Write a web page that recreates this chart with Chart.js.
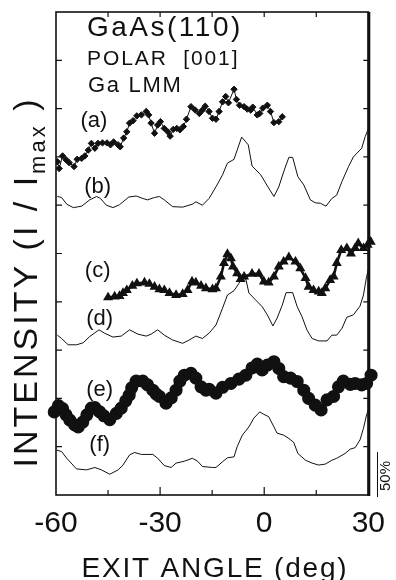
<!DOCTYPE html>
<html>
<head>
<meta charset="utf-8">
<title>GaAs(110) Ga LMM polar scan</title>
<script src="https://cdn.jsdelivr.net/npm/chart.js@4.4.1/dist/chart.umd.min.js"></script>
<style>
  html, body { margin: 0; padding: 0; background: #fff; }
  canvas { display: block; }
</style>
</head>
<body>
<canvas id="scan" width="396" height="580"></canvas>
<script>
// exit angle (deg) and stacked intensity for each curve, one pair of arrays per trace
const aAngles = [-59.6, -59.1, -58.1, -57.1, -56.2, -54.8, -53.9, -52.6, -51.7, -50.7, -49.8, -48.8, -47.9, -46.6, -45.3, -44.3, -43.4, -42.1, -41.5, -40.5, -39.6, -38.8, -37.8, -36.7, -35.4, -34.0, -33.3, -32.6, -31.6, -30.7, -29.9, -28.8, -27.8, -27.1, -26.2, -25.2, -24.3, -23.3, -22.4, -21.1, -19.9, -18.7, -17.8, -17.0, -15.9, -14.9, -13.9, -13.0, -12.0, -11.1, -10.3, -8.7, -8.0, -7.1, -5.8, -4.9, -3.9, -3.3, -2.0, -1.3, -0.4, 0.9, 1.8, 2.8, 4.2, 5.2];
const aValues = [6.90, 6.76, 7.02, 6.94, 6.88, 6.80, 6.95, 6.97, 7.02, 7.14, 7.28, 7.18, 7.28, 7.29, 7.29, 7.25, 7.31, 7.25, 7.21, 7.39, 7.52, 7.70, 7.75, 7.85, 7.87, 7.94, 7.87, 7.70, 7.49, 7.66, 7.73, 7.59, 7.52, 7.43, 7.57, 7.59, 7.56, 7.63, 7.78, 8.04, 7.97, 7.90, 7.97, 8.05, 7.94, 7.80, 7.78, 7.94, 8.14, 8.25, 8.12, 8.40, 8.19, 8.07, 8.04, 7.99, 7.97, 8.03, 7.87, 7.90, 8.01, 8.07, 7.94, 7.71, 7.73, 7.83];

const bAngles = [-59.6, -58.4, -56.9, -55.0, -52.6, -50.3, -48.3, -47.2, -45.5, -43.6, -41.7, -39.0, -36.9, -35.0, -33.6, -31.6, -30.2, -28.8, -26.4, -23.5, -20.7, -19.7, -17.8, -15.9, -13.9, -12.0, -10.6, -8.7, -7.8, -6.5, -5.3, -4.6, -3.5, -1.0, 0.9, 2.8, 4.2, 5.6, 7.1, 8.2, 9.7, 11.4, 13.3, 14.7, 16.2, 17.8, 19.5, 20.9, 22.4, 24.3, 25.7, 28.1, 29.1, 30];
const bValues = [6.18, 6.16, 6.02, 5.95, 5.98, 6.11, 6.18, 6.14, 6.00, 5.95, 6.01, 6.17, 6.19, 6.14, 6.11, 6.16, 6.18, 6.11, 5.97, 5.96, 6.02, 6.07, 6.00, 6.14, 6.38, 6.63, 6.87, 6.95, 7.14, 7.41, 7.31, 7.25, 6.81, 6.63, 6.40, 6.18, 6.38, 6.69, 6.99, 6.99, 6.59, 6.42, 6.11, 6.05, 6.04, 5.98, 6.14, 6.21, 6.49, 6.80, 7.00, 7.18, 7.42, 7.58];

const cAngles = [-45.0, -43.1, -41.7, -40.7, -39.6, -38.0, -36.7, -34.5, -33.1, -31.6, -30.2, -28.8, -27.3, -25.4, -23.5, -22.1, -20.8, -19.7, -18.2, -16.8, -14.9, -13.9, -12.5, -11.6, -10.6, -9.6, -9.0, -7.8, -6.8, -5.8, -3.5, -1.5, -0.1, 1.3, 2.8, 4.2, 5.6, 7.1, 9.0, 10.4, 11.9, 12.8, 14.2, 15.7, 16.6, 17.6, 19.0, 20.0, 20.9, 22.2, 23.8, 25.0, 26.2, 27.1, 28.6, 29.8, 30.7];
const cValues = [4.09, 4.11, 4.12, 4.18, 4.24, 4.33, 4.38, 4.40, 4.37, 4.31, 4.26, 4.24, 4.18, 4.14, 4.16, 4.24, 4.42, 4.40, 4.33, 4.28, 4.26, 4.28, 4.52, 4.80, 4.99, 4.90, 4.73, 4.59, 4.47, 4.52, 4.58, 4.58, 4.42, 4.40, 4.52, 4.73, 4.83, 4.92, 4.83, 4.69, 4.49, 4.31, 4.24, 4.21, 4.18, 4.28, 4.45, 4.52, 4.80, 5.07, 5.11, 5.00, 5.11, 5.21, 5.11, 5.18, 5.24];

const dAngles = [-59.6, -58.4, -56.5, -54.1, -52.2, -50.3, -47.6, -46.0, -43.6, -41.2, -38.8, -36.4, -34.0, -32.6, -30.7, -28.8, -26.4, -23.5, -21.6, -19.7, -17.8, -15.9, -13.9, -12.0, -10.6, -8.7, -7.3, -6.3, -5.3, -4.4, -2.5, -0.6, 0.9, 2.5, 3.7, 5.2, 6.3, 8.2, 9.5, 10.9, 12.3, 13.8, 15.7, 18.1, 19.5, 20.9, 22.4, 23.8, 25.7, 27.6, 28.6, 29.5, 30];
const dValues = [3.31, 3.24, 3.11, 3.11, 3.15, 3.28, 3.42, 3.35, 3.27, 3.29, 3.42, 3.33, 3.29, 3.33, 3.42, 3.31, 3.21, 3.14, 3.21, 3.29, 3.24, 3.35, 3.52, 3.87, 4.14, 4.23, 4.38, 4.52, 4.47, 4.18, 4.04, 3.90, 3.73, 3.50, 3.66, 3.93, 4.19, 4.19, 3.90, 3.69, 3.42, 3.24, 3.19, 3.19, 3.31, 3.31, 3.45, 3.68, 3.73, 3.91, 4.14, 4.52, 4.66];

const eAngles = [-60.5, -59.3, -58.1, -57.1, -56.0, -54.6, -53.6, -52.3, -51.1, -49.8, -48.8, -47.4, -46.2, -44.5, -42.6, -41.2, -39.9, -38.9, -38.2, -36.9, -35.0, -33.6, -32.1, -31.1, -30.2, -28.3, -26.8, -25.4, -24.3, -23.0, -21.1, -19.7, -18.2, -16.8, -15.9, -13.9, -12.0, -9.6, -7.3, -5.3, -3.5, -2.0, -0.6, 0.9, 2.8, 4.2, 5.6, 7.6, 9.5, 11.4, 12.8, 14.7, 16.4, 18.1, 20.0, 21.4, 22.8, 24.8, 26.2, 28.1, 29.5, 30.8];
const eValues = [1.72, 1.85, 1.79, 1.66, 1.55, 1.45, 1.41, 1.51, 1.66, 1.80, 1.81, 1.72, 1.64, 1.56, 1.69, 1.80, 1.95, 2.07, 2.22, 2.36, 2.36, 2.28, 2.17, 2.09, 2.04, 1.90, 2.01, 2.17, 2.36, 2.48, 2.52, 2.42, 2.24, 2.17, 2.19, 2.11, 2.23, 2.31, 2.40, 2.48, 2.63, 2.71, 2.59, 2.69, 2.76, 2.62, 2.45, 2.42, 2.35, 2.17, 2.00, 1.86, 1.76, 1.97, 2.04, 2.24, 2.36, 2.29, 2.31, 2.28, 2.31, 2.48];

const fAngles = [-59.8, -58.4, -56.9, -54.1, -51.2, -48.8, -46.9, -44.5, -42.1, -40.7, -38.8, -37.4, -35.4, -32.1, -30.7, -28.8, -26.8, -25.4, -23.0, -20.7, -19.2, -17.8, -14.9, -13.9, -12.0, -10.6, -8.7, -7.8, -6.3, -4.4, -3.0, -1.3, -0.1, 1.3, 2.8, 3.7, 5.6, 7.1, 8.5, 9.7, 11.9, 13.8, 15.7, 17.6, 19.5, 20.9, 23.3, 24.8, 26.2, 27.6, 28.6, 29.5, 30];
const fValues = [0.93, 0.90, 0.76, 0.54, 0.52, 0.57, 0.52, 0.43, 0.52, 0.62, 0.83, 0.88, 0.84, 0.84, 0.76, 0.61, 0.57, 0.66, 0.70, 0.76, 0.70, 0.59, 0.57, 0.57, 0.69, 0.77, 0.79, 1.00, 1.24, 1.41, 1.59, 1.72, 1.67, 1.62, 1.41, 1.28, 1.24, 1.17, 1.09, 0.86, 0.72, 0.66, 0.62, 0.64, 0.72, 0.76, 0.86, 0.95, 0.98, 1.14, 1.38, 1.66, 1.76];

const xTickLabels = [-60, -30, 0, 30];
const curveLabels = ["(a)", "(b)", "(c)", "(d)", "(e)", "(f)"];

const FONT = "'Liberation Sans', Arial, Helvetica, sans-serif";
const INK = "#111";

function series(angles, values, style) {
  return Object.assign({
    data: angles.map((x, i) => ({ x: x, y: values[i] })),
    borderColor: INK,
    backgroundColor: INK,
    tension: 0,
    pointRadius: 0,
    pointHoverRadius: 0
  }, style);
}

// box with inward ticks on all four sides
const frame = {
  id: "frame",
  beforeDatasetsDraw(chart) {
    const { ctx, chartArea: area, scales } = chart;
    const x = scales.x, y = scales.y;
    ctx.save();
    ctx.strokeStyle = INK;
    ctx.lineWidth = 1.2;
    ctx.beginPath();
    for (let v = -45; v < 30; v += 15) {
      const px = x.getPixelForValue(v);
      const len = v % 30 === 0 ? 8 : 5;
      ctx.moveTo(px, area.bottom);
      ctx.lineTo(px, area.bottom - len);
      ctx.moveTo(px, area.top);
      ctx.lineTo(px, area.top + 5);
    }
    for (let v = 1; v < 10; v++) {
      const py = y.getPixelForValue(v);
      ctx.moveTo(area.left, py);
      ctx.lineTo(area.left + 6, py);
      ctx.moveTo(area.right, py);
      ctx.lineTo(area.right - 5, py);
    }
    ctx.stroke();

    ctx.lineWidth = 1.6;
    ctx.strokeRect(area.left, area.top, area.right - area.left, area.bottom - area.top);
    ctx.lineWidth = 3;
    ctx.beginPath();
    ctx.moveTo(area.right + 0.5, area.top);
    ctx.lineTo(area.right + 0.5, area.bottom + 1);
    ctx.stroke();
    ctx.restore();
  }
};

function spacedText(ctx, text, x, y, font, spacing) {
  ctx.font = font;
  ctx.letterSpacing = spacing + "px";
  ctx.fillText(text, x, y);
  ctx.letterSpacing = "0px";
}

// header, curve tags, axis titles and the 50% bar
const annotations = {
  id: "annotations",
  afterDraw(chart) {
    const { ctx, scales } = chart;
    const x = scales.x, y = scales.y;
    ctx.save();
    ctx.fillStyle = INK;
    ctx.textBaseline = "alphabetic";

    ctx.textAlign = "left";
    spacedText(ctx, "GaAs(110)", 87, 36, "28px " + FONT, 2.5);
    spacedText(ctx, "POLAR  [001]", 87, 65, "21px " + FONT, 1.9);
    spacedText(ctx, "Ga LMM", 88, 92, "22px " + FONT, 1.7);

    const tagAngles = [-49.1, -48.0, -48.0, -47.4, -47.4, -47.4];
    const tagLevels = [7.74, 6.38, 4.64, 3.64, 2.17, 1.04];
    ctx.textAlign = "center";
    ctx.font = "22px " + FONT;
    curveLabels.forEach((t, i) => {
      ctx.fillText(t, x.getPixelForValue(tagAngles[i]), y.getPixelForValue(tagLevels[i]) + 6);
    });

    spacedText(ctx, "EXIT ANGLE (deg)", 215, 577, "28px " + FONT, 1.8);

    // rotated intensity title with subscript
    ctx.save();
    ctx.translate(0, 282);
    ctx.rotate(-Math.PI / 2);
    ctx.textAlign = "left";
    const big = "34px " + FONT, small = "22px " + FONT;
    ctx.letterSpacing = "3px";
    ctx.font = big;
    const w1 = ctx.measureText("INTENSITY (I / I").width;
    const w3 = ctx.measureText(" )").width;
    ctx.font = small;
    const w2 = ctx.measureText("max").width;
    let tx = -(w1 + w2 + w3) / 2;
    ctx.font = big;
    ctx.fillText("INTENSITY (I / I", tx, 37);
    tx += w1;
    ctx.font = small;
    ctx.fillText("max", tx, 45);
    tx += w2;
    ctx.font = big;
    ctx.fillText(" )", tx, 37);
    ctx.restore();

    // 50% scale mark
    ctx.save();
    ctx.strokeStyle = INK;
    ctx.lineWidth = 1;
    ctx.beginPath();
    ctx.moveTo(377.5, 452);
    ctx.lineTo(377.5, 497);
    ctx.stroke();
    ctx.translate(390, 476);
    ctx.rotate(-Math.PI / 2);
    ctx.textAlign = "center";
    ctx.font = "15px " + FONT;
    ctx.fillText("50%", 0, 0);
    ctx.restore();

    ctx.restore();
  }
};

new Chart(document.getElementById("scan"), {
  type: "line",
  data: {
    datasets: [
      series(aAngles, aValues, { borderWidth: 1, pointStyle: "rectRot", pointRadius: 3.2 }),
      series(bAngles, bValues, { borderWidth: 1 }),
      series(cAngles, cValues, { borderWidth: 2.6, pointStyle: "triangle", pointRadius: 3.2, clip: false }),
      series(dAngles, dValues, { borderWidth: 1 }),
      series(eAngles, eValues, { borderWidth: 4.5, pointStyle: "circle", pointRadius: 4.3, clip: false }),
      series(fAngles, fValues, { borderWidth: 1 })
    ]
  },
  options: {
    responsive: false,
    animation: false,
    devicePixelRatio: 1,
    layout: { padding: { left: 56, right: 26, top: 12, bottom: 0 } },
    plugins: {
      legend: { display: false },
      tooltip: { enabled: false }
    },
    scales: {
      x: {
        type: "linear",
        min: -60,
        max: 30,
        grid: { display: false, drawTicks: false },
        border: { display: false },
        ticks: {
          stepSize: 15,
          autoSkip: false,
          maxRotation: 0,
          padding: 11,
          color: INK,
          font: { family: FONT, size: 30 },
          callback: v => xTickLabels.includes(v) ? String(v) : ""
        },
        afterFit: s => { s.height = 85; }
      },
      y: { type: "linear", min: 0, max: 10, display: false }
    }
  },
  plugins: [frame, annotations]
});
</script>
</body>
</html>
